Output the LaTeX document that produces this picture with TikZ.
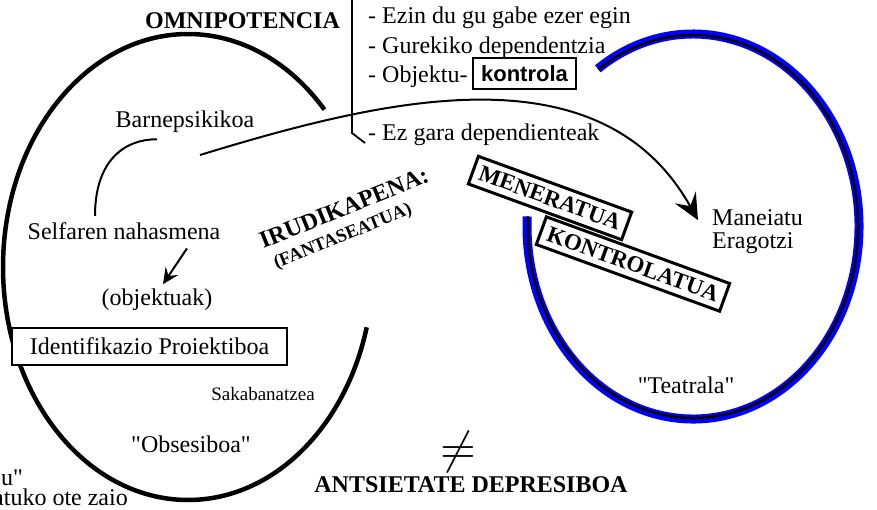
\documentclass[tikz,border=0pt]{standalone}
\usepackage{fontspec}
\setmainfont[Ligatures=TeXOff]{Liberation Serif}
\newfontfamily\arialfont{Liberation Sans}
\usetikzlibrary{arrows.meta}

\begin{document}
\begin{tikzpicture}[x=1pt, y=-1pt,
        textstyle/.style={font=\fontsize{24}{24}\selectfont, inner sep=2pt},
        titlestyle/.style={font=\fontsize{24}{24}\selectfont\bfseries, inner sep=2pt},
        boxstyle/.style={draw, fill=white, line width=1.8pt, inner sep=0pt},
        rotboxstyle/.style={draw, fill=white, line width=3pt, inner sep=7pt, font=\fontsize{23}{23}\selectfont\bfseries},
        arrowstyle/.style={line width=2pt, -{Stealth[length=26pt, width=24pt, inset=10pt]}},
        smallarrow/.style={line width=2pt, -{Stealth[length=16pt, width=15pt, inset=6pt]}}]

    \useasboundingbox (0,0) rectangle (877,509);

    % ellipses
    \coordinate (leftcen) at (188,267);
    \coordinate (rightcen) at (693,226.5);
    \draw[line width=4.5pt] ([shift={(42.5:185pt and 233pt)}]leftcen)
        arc[start angle=42.5, end angle=345, x radius=185pt, y radius=233pt];
    \draw[blue, line width=9pt] ([shift={(125:166pt and 192.5pt)}]rightcen)
        arc[start angle=125, end angle=-183, x radius=166pt, y radius=192.5pt];
    \draw[line width=2.5pt] ([shift={(125:165pt and 191.5pt)}]rightcen)
        arc[start angle=125, end angle=-183, x radius=165pt, y radius=191.5pt];

    % top list
    \draw[line width=1.8pt] (352,-5) -- (352,133) -- (365,143);
    \foreach \nm/\y/\txt in {ezin/23/{- Ezin du gu gabe ezer egin},
                             gure/53/{- Gurekiko dependentzia},
                             objektu/82/{- Objektu-},
                             ezgara/140/{- Ez gara dependienteak}}{
            \node[textstyle, anchor=base west] (\nm) at (366,\y) {\txt};
        }
    \node[boxstyle, line width=2pt, minimum width=103pt, minimum height=31pt,
        font=\fontsize{22}{22}\selectfont\arialfont\bfseries] (kontrola) at (524.5,73.5) {kontrola};
    \node[titlestyle, anchor=base] (omni) at (242.5,28) {OMNIPOTENCIA};

    % left side
    \node[textstyle, anchor=base] (barne) at (185,127) {Barnepsikikoa};
    \node[textstyle, anchor=base] (selfaren) at (124,239) {Selfaren nahasmena};
    \node[textstyle, anchor=base] (objektuak) at (157,305) {(objektuak)};
    \node[boxstyle, minimum width=275pt, minimum height=37pt, font=\fontsize{24}{24}\selectfont] (identif) at (149.5,346.5) {Identifikazio Proiektiboa};
    \node[textstyle, font=\fontsize{19}{19}\selectfont, anchor=base] (sakab) at (263,400) {Sakabanatzea};
    \node[textstyle, anchor=base] (obses) at (191,452) {"Obsesiboa"};
    \node[textstyle, anchor=base east] (cutu) at (25,485) {u"};
    \node[textstyle, anchor=base east] (cutzaio) at (130,505) {atuko ote zaio};

    \draw[line width=2pt] ([xshift=-28pt, yshift=-5pt]barne.south)
        .. controls (125,139) and (95,160) .. ([xshift=-29pt, yshift=4pt]selfaren.north);
    \draw[smallarrow] ([xshift=63pt, yshift=-7pt]selfaren.south) -- ([xshift=6pt, yshift=2pt]objektuak.north);

    % middle
    \node[titlestyle, rotate=22] (irudi) at (344,208) {IRUDIKAPENA:};
    \node[titlestyle, font=\fontsize{18.5}{18.5}\selectfont\bfseries, rotate=22] (fanta) at (343,237) {(FANTASEATUA)};
    \node[scale=4.6] (neq) at (458,452) {$\neq$};
    \node[titlestyle, anchor=base] (antsi) at (471,492) {ANTSIETATE DEPRESIBOA};

    % right side
    \node[textstyle, anchor=base west] (mane) at (710,225) {Maneiatu};
    \node[textstyle, anchor=base west] (erago) at (710,248) {Eragotzi};
    \node[textstyle, anchor=base] (teatr) at (686,393) {"Teatrala"};
    \node[rotboxstyle, rotate=-20] (kontrol) at (633,264) {KONTROLATUA};
    \node[rotboxstyle, rotate=-20] (menera) at (550,198) {MENERATUA};

    \coordinate (curvestart) at (200,155);
    \draw[arrowstyle] (curvestart) .. controls (380,100) and (600,45) .. ([xshift=-12pt, yshift=-3pt]mane.west);
\end{tikzpicture}
\end{document}
